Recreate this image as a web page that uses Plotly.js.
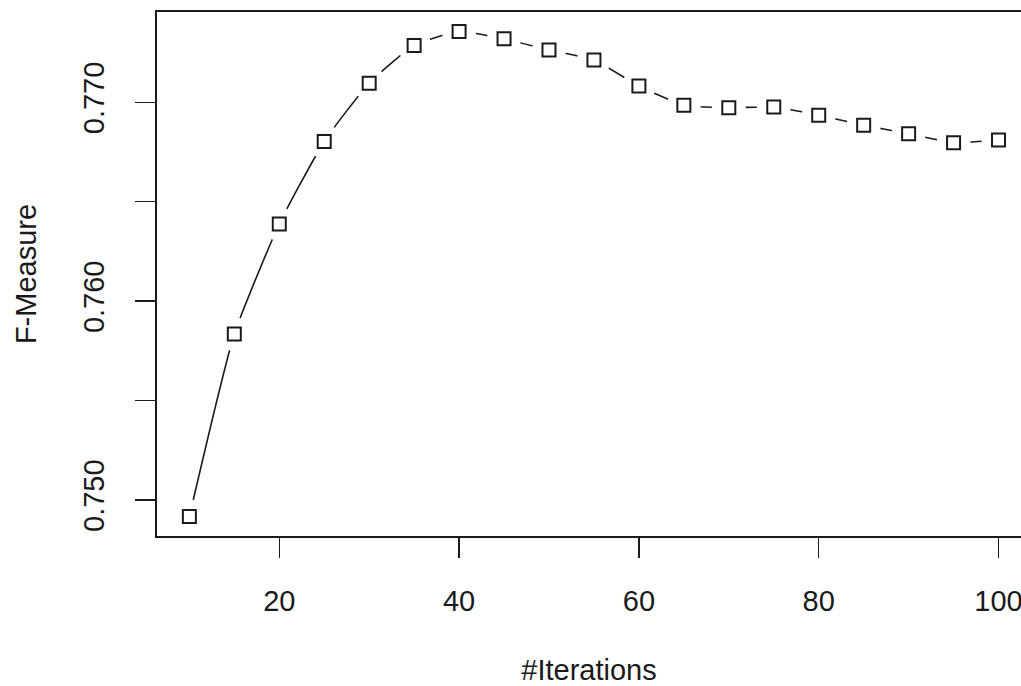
<!DOCTYPE html>
<html>
<head>
<meta charset="utf-8">
<script src="https://cdn.plot.ly/plotly-3.0.1.min.js"></script>
<style>
  html, body { margin: 0; padding: 0; background: #fff; overflow: hidden; }
  #chart { width: 1021px; height: 686px; }
</style>
</head>
<body>
<div id="chart"></div>
<script>
// Data
const iterations = [10, 15, 20, 25, 30, 35, 40, 45, 50, 55, 60, 65, 70, 75, 80, 85, 90, 95, 100];
const fMeasure = [0.74917, 0.75835, 0.76388, 0.76803, 0.77096, 0.77286, 0.77356, 0.77319, 0.77263, 0.77213,
                  0.77082, 0.76985, 0.76973, 0.76976, 0.76935, 0.76885, 0.76842, 0.76797, 0.76810];

const xTickVals = [20, 40, 60, 80, 100];
const xTickText = ['20', '40', '60', '80', '100'];
const yTickVals = [0.750, 0.755, 0.760, 0.765, 0.770];
const yTickText = ['0.750', '', '0.760', '', '0.770'];

const xTitle = '#Iterations';
const yTitle = 'F-Measure';

const FONT = 'Liberation Sans, Arial, Helvetica, sans-serif';
const INK = '#1a1a1a';
const X_RANGE = [6.4, 102.5];
const Y_RANGE = [0.74819, 0.77454];

const traces = [
  {
    x: iterations, y: fMeasure, type: 'scatter', mode: 'lines',
    line: { color: INK, width: 1.6, shape: 'spline', smoothing: 0.5 },
    hoverinfo: 'skip', showlegend: false
  },
  {
    x: iterations, y: fMeasure, type: 'scatter', mode: 'markers',
    marker: { symbol: 'square', size: 13, color: '#ffffff', line: { color: INK, width: 2 } },
    showlegend: false
  }
];

// Point symbols drawn as anchored shapes above the line so the line gets
// R-style (type = "b") gaps around every point. Positions come from the data
// through the axis scales; sizes are in pixels.
const halos = iterations.map((xv, i) => ({
  type: 'circle', layer: 'above', xref: 'x', yref: 'y',
  xsizemode: 'pixel', ysizemode: 'pixel', xanchor: xv, yanchor: fMeasure[i],
  x0: -17, x1: 17, y0: -17, y1: 17,
  fillcolor: '#ffffff', line: { width: 0 }
}));
const squares = iterations.map((xv, i) => ({
  type: 'rect', layer: 'above', xref: 'x', yref: 'y',
  xsizemode: 'pixel', ysizemode: 'pixel', xanchor: xv, yanchor: fMeasure[i],
  x0: -6.5, x1: 6.5, y0: -6.5, y1: 6.5,
  fillcolor: '#ffffff', line: { color: INK, width: 2 }
}));

const layout = {
  width: 1021, height: 686,
  margin: { l: 157, r: 0, t: 12, b: 150, pad: 0 },
  paper_bgcolor: '#ffffff', plot_bgcolor: '#ffffff',
  font: { family: FONT, color: INK, size: 29 },
  showlegend: false,
  shapes: halos.concat(squares),
  xaxis: {
    range: X_RANGE,
    tickmode: 'array', tickvals: xTickVals, ticktext: xTickText,
    ticks: 'outside', ticklen: 20, tickwidth: 1.5, tickcolor: INK,
    ticklabelstandoff: 18, ticklabeloverflow: 'allow',
    showline: true, linecolor: INK, linewidth: 2, mirror: true,
    showgrid: false, zeroline: false,
    tickfont: { family: FONT, size: 29, color: INK },
    title: { text: xTitle, font: { family: FONT, size: 29, color: INK }, standoff: 44 }
  },
  yaxis: {
    range: Y_RANGE,
    tickmode: 'array', tickvals: yTickVals, ticktext: yTickText,
    tickangle: -90,
    ticks: 'outside', ticklen: 20, tickwidth: 1.5, tickcolor: INK,
    ticklabelstandoff: 19, ticklabeloverflow: 'allow',
    showline: true, linecolor: INK, linewidth: 2, mirror: false,
    showgrid: false, zeroline: false,
    tickfont: { family: FONT, size: 29, color: INK },
    title: { text: yTitle, font: { family: FONT, size: 29, color: INK }, standoff: 33 }
  }
};

Plotly.newPlot('chart', traces, layout, { staticPlot: true, displayModeBar: false });
</script>
</body>
</html>
